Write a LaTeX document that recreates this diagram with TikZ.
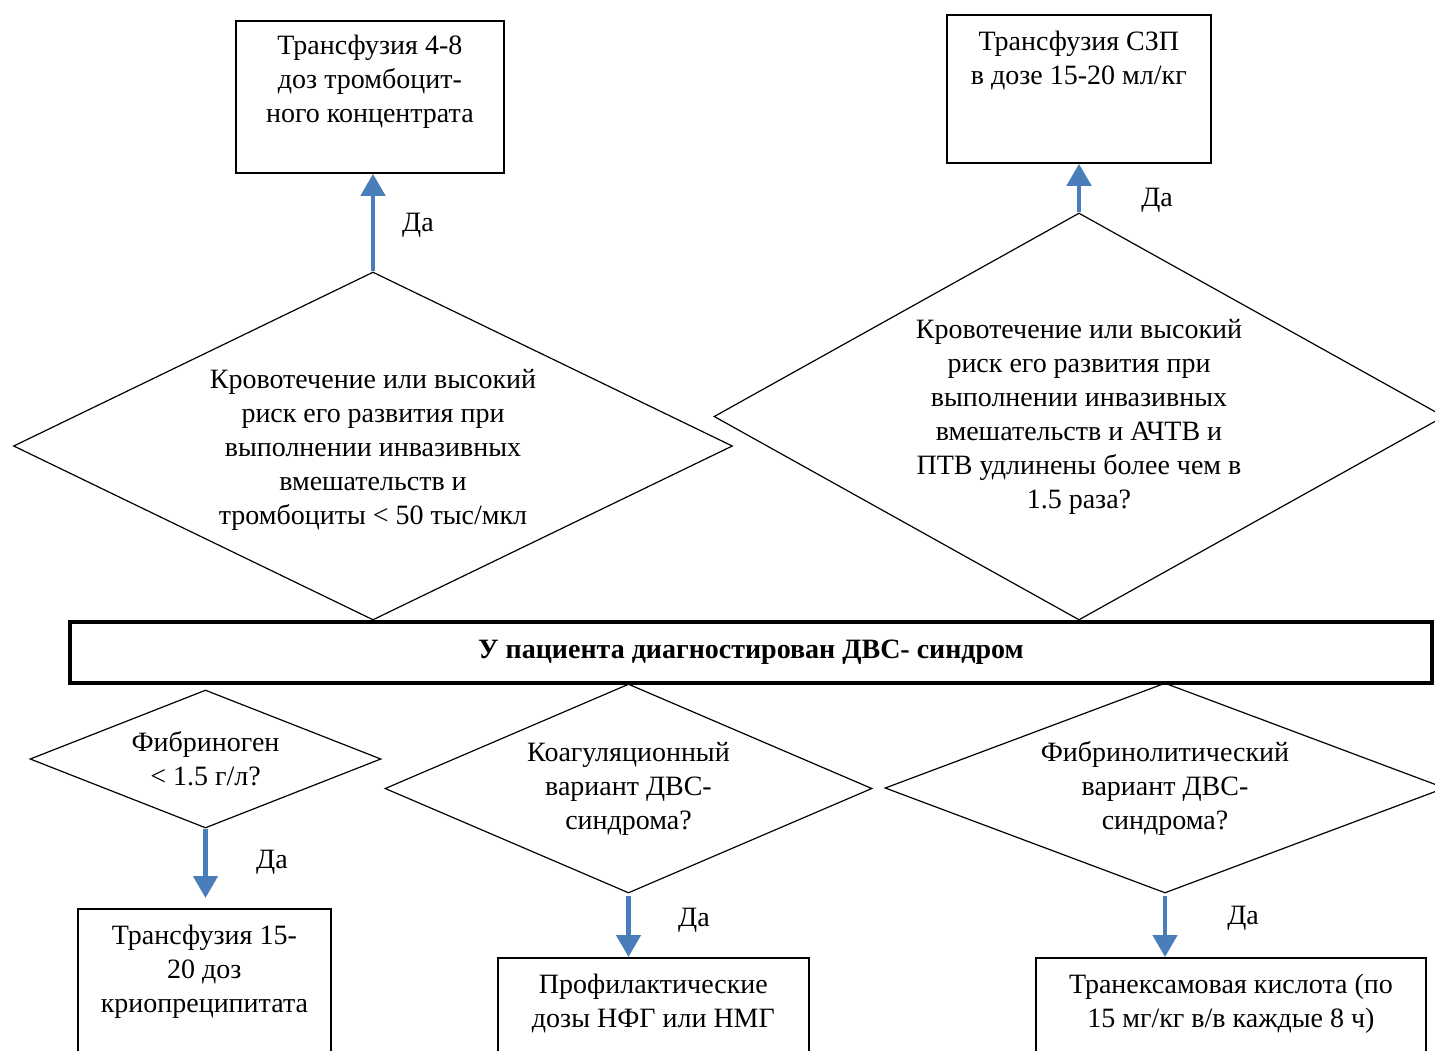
\documentclass[tikz,border=0pt]{standalone}
\usepackage{fontspec}
\setmainfont{Liberation Serif}
\usepackage{tikz}
\usetikzlibrary{arrows.meta,shapes.geometric}
\usepackage{xcolor}
\definecolor{yesblue}{RGB}{74,126,187}

\begin{document}
\begin{tikzpicture}[x=0.5pt, y=-0.5pt,
    font=\fontsize{14}{17}\selectfont,
    cond/.style={diamond, draw, line width=0.6pt, inner sep=0pt, align=center},
    act/.style={rectangle, draw, line width=0.9pt, inner sep=0pt, anchor=north west},
    yes/.style={draw=yesblue, line width=2.3pt, -{Triangle[width=12pt,length=11pt]}}]
\useasboundingbox (0,0) rectangle (1435,1050);
\clip (0,0) rectangle (1435,1050);
% treatment boxes on top
\node[act] (b1) at (235,20) {\parbox[c][76pt][t]{134pt}{\centering\vspace*{7pt}%
    Трансфузия 4-8\\доз тромбоцит-\\ного концентрата}};
\node[act] (b2) at (946,14) {\parbox[c][74pt][t]{132pt}{\centering\vspace*{8pt}%
    Трансфузия СЗП\\в дозе 15-20 мл/кг}};
% upper conditions
\node[cond, minimum width=359.5pt, minimum height=174pt, shape aspect=2.07] (d1) at (373,446)
    {\\[-4pt]Кровотечение или высокий\\риск его развития при\\выполнении инвазивных\\вмешательств и\\тромбоциты < 50 тыс/мкл};
\node[cond, minimum width=365pt, minimum height=203.5pt, shape aspect=1.79] (d2) at (1079,416.5)
    {Кровотечение или высокий\\риск его развития при\\выполнении инвазивных\\вмешательств и АЧТВ и\\ПТВ удлинены более чем в\\1.5 раза?};
% diagnosis
\node[draw, line width=1.6pt, minimum width=681pt, minimum height=30.5pt, inner sep=0pt] (dvs) at (751,652.5)
    {\bfseries У пациента диагностирован ДВС- синдром};
% lower conditions
\node[cond, minimum width=175.5pt, minimum height=69pt, shape aspect=2.54] (d3) at (205.5,759)
    {Фибриноген\\< 1.5 г/л?};
\node[cond, minimum width=243.5pt, minimum height=104.5pt, shape aspect=2.33] (d4) at (628.5,788.5)
    {Коагуляционный\\вариант ДВС-\\синдрома?};
\node[cond, minimum width=280pt, minimum height=105pt, shape aspect=2.67] (d5) at (1165,788)
    {Фибринолитический\\вариант ДВС-\\синдрома?};
% lower treatment boxes
\node[act] (b3) at (77,908) {\parbox[c][80pt][t]{126.5pt}{\centering\vspace*{8pt}%
    Трансфузия 15-\\20 доз\\криопреципитата}};
\node[act] (b4) at (497,957) {\parbox[c][60pt][t]{155.5pt}{\centering\vspace*{8pt}%
    Профилактические\\дозы НФГ или НМГ}};
\node[act] (b5) at (1035,957) {\parbox[c][60pt][t]{195pt}{\centering\vspace*{8pt}%
    Транексамовая кислота (по\\15 мг/кг в/в каждые 8 ч)}};
% yes arrows
\draw[yes] (d1.north) -- (d1.north |- b1.south);
\draw[yes] (d2.north) -- (d2.north |- b2.south);
\draw[yes, shorten >=5pt] (d3.south) -- (d3.south |- b3.north);
\draw[yes, shorten <=1pt] (d4.south) -- (d4.south |- b4.north);
\draw[yes, shorten <=1pt] (d5.south) -- (d5.south |- b5.north);
\node (y1) at (418,225) {Да};
\node (y2) at (1157,200) {Да};
\node (y3) at (272,862) {Да};
\node (y4) at (694,920) {Да};
\node (y5) at (1243,918) {Да};
\end{tikzpicture}
\end{document}
